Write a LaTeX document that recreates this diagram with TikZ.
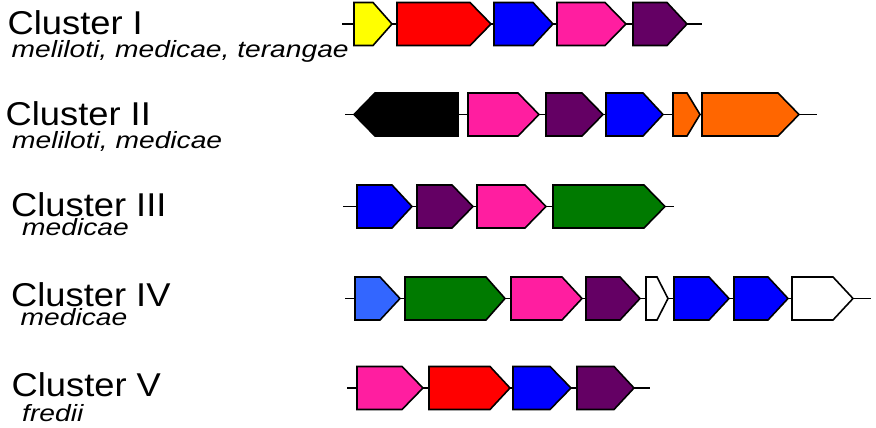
\documentclass[tikz,border=0pt]{standalone}
\usepackage{fontspec}
\usepackage{graphicx}
\setmainfont{Liberation Sans}
\definecolor{gyellow}{RGB}{255,255,0}
\definecolor{gred}{RGB}{255,0,0}
\definecolor{gblue}{RGB}{0,0,255}
\definecolor{gpink}{RGB}{255,30,160}
\definecolor{gpurple}{RGB}{100,0,100}
\definecolor{gorange}{RGB}{255,102,0}
\definecolor{ggreen}{RGB}{0,122,0}
\definecolor{glblue}{RGB}{51,102,255}
\newcommand{\genearrow}[5]{% left, shoulder, tip, y-centre, colour
  \filldraw[gene, fill=#5] (#1,#4-21.5) -- (#2,#4-21.5) -- (#3,#4) -- (#2,#4+21.5) -- (#1,#4+21.5) -- cycle;}
\newcommand{\ttl}[1]{\scalebox{1.1}[1]{#1}}
\newcommand{\spc}[1]{\scalebox{1.2}[1]{#1}}
\begin{document}
\begin{tikzpicture}[x=1pt,y=-1pt,
  gene/.style={draw=black, line width=1.6pt, line join=miter},
  backbone/.style={draw=black, line width=1.8pt},
  title/.style={anchor=base west, inner sep=0pt, font=\fontsize{33}{36}\selectfont},
  species/.style={anchor=base west, inner sep=0pt, font=\fontsize{23.5}{26}\selectfont\itshape}]
\useasboundingbox (0,0) rectangle (876,428);

% labels
\node[title] (t1) at (7.5,35) {\ttl{Cluster I}};
\node[species] (s1) at (11.5,58) {\spc{meliloti, medicae, terangae}};
\node[title] (t2) at (5.5,125) {\ttl{Cluster II}};
\node[species] (s2) at (12,148) {\spc{meliloti, medicae}};
\node[title] (t3) at (11,216) {\ttl{Cluster III}};
\node[species] (s3) at (22,235) {\spc{medicae}};
\node[title] (t4) at (11,306.5) {\ttl{Cluster IV}};
\node[species] (s4) at (20.5,325) {\spc{medicae}};
\node[title] (t5) at (11.5,396) {\ttl{Cluster V}};
\node[species] (s5) at (22,421.5) {\spc{fredii}};

% backbones
\coordinate (a1) at (342,24); \coordinate (b1) at (702,24);
\coordinate (a2) at (345,114.5); \coordinate (b2) at (817,114.5);
\coordinate (a3) at (343,206.5); \coordinate (b3) at (674,206.5);
\coordinate (a4) at (345,298.5); \coordinate (b4) at (871,298.5);
\coordinate (a5) at (347,388); \coordinate (b5) at (650,388);
\draw[backbone] (a1) -- (b1);
\draw[backbone] (a2) -- (b2);
\draw[backbone] (a3) -- (b3);
\draw[backbone] (a4) -- (b4);
\draw[backbone] (a5) -- (b5);

% Cluster I
\genearrow{354}{373}{392}{24}{gyellow}
\genearrow{397}{470}{491}{24}{gred}
\genearrow{494}{533}{553}{24}{gblue}
\genearrow{557}{605}{626}{24}{gpink}
\genearrow{633}{667}{687}{24}{gpurple}

% Cluster II
\genearrow{458}{375}{354}{114.5}{black}
\genearrow{468}{518}{539}{114.5}{gpink}
\genearrow{546}{582}{603}{114.5}{gpurple}
\genearrow{606}{643}{663}{114.5}{gblue}
\genearrow{673}{687}{700}{114.5}{gorange}
\genearrow{702}{778}{799}{114.5}{gorange}

% Cluster III
\genearrow{357}{392}{412}{206.5}{gblue}
\genearrow{417}{452}{473}{206.5}{gpurple}
\genearrow{477}{525}{546}{206.5}{gpink}
\genearrow{553}{644}{665}{206.5}{ggreen}

% Cluster IV
\genearrow{355}{380}{400}{298.5}{glblue}
\genearrow{405}{486}{505}{298.5}{ggreen}
\genearrow{511}{562}{582}{298.5}{gpink}
\genearrow{586}{620}{640}{298.5}{gpurple}
\genearrow{646}{657}{668}{298.5}{white}
\genearrow{674}{709}{729}{298.5}{gblue}
\genearrow{734}{768}{788}{298.5}{gblue}
\genearrow{792}{833}{853}{298.5}{white}

% Cluster V
\genearrow{357}{402}{423}{388}{gpink}
\genearrow{429}{490}{510}{388}{gred}
\genearrow{513}{550}{571}{388}{gblue}
\genearrow{577}{614}{634}{388}{gpurple}
\end{tikzpicture}
\end{document}
